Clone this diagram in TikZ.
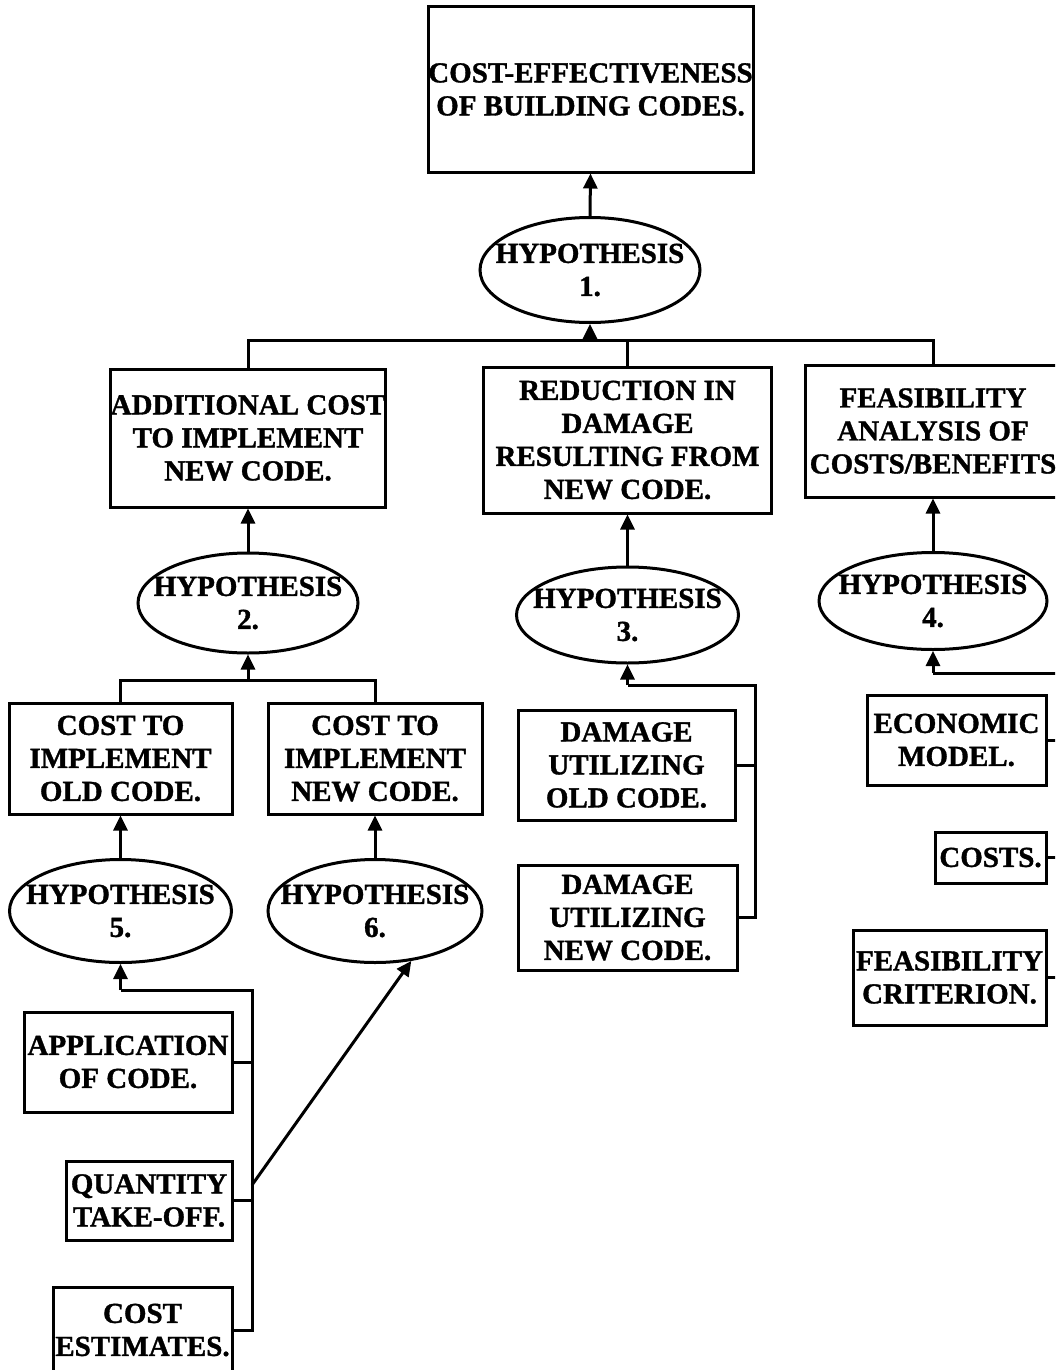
\documentclass[tikz,border=0pt]{standalone}
\usepackage{fontspec}
\setmainfont{Liberation Serif}[BoldFeatures={FakeBold=1.2}]
\usetikzlibrary{arrows.meta,shapes.geometric}
\begin{document}
\begin{tikzpicture}[x=1pt,y=-1pt,
  every node/.style={font=\bfseries\fontsize{29}{33}\selectfont, align=center, inner sep=0pt},
  box/.style={draw, line width=3pt, rectangle},
  hyp/.style={draw, line width=3pt, ellipse, inner xsep=-30pt, inner ysep=0pt},
  conn/.style={line width=3pt},
  arr/.style={conn, -{Triangle[width=14pt,length=15pt]}},
]
\path[use as bounding box, fill=white] (0,0) rectangle (1055,1370);
\clip (0,0) rectangle (1055,1370);

% level 0
\node[box, minimum width=325pt, minimum height=165pt] (top) at (590.5,89.5) {COST-EFFECTIVENESS\\OF BUILDING CODES.};
\node[hyp, minimum width=220pt, minimum height=105pt] (h1) at (590,270) {HYPOTHESIS\\1.};

% level 1
\node[box, minimum width=274pt, minimum height=138pt] (addc) at (248,438) {ADDITIONAL COST\\TO IMPLEMENT\\NEW CODE.};
\node[box, minimum width=288pt, minimum height=146pt] (red) at (627.5,440) {REDUCTION IN\\DAMAGE\\RESULTING FROM\\NEW CODE.};
\node[box, minimum width=256pt, minimum height=132pt] (feas) at (933,431) {FEASIBILITY\\ANALYSIS OF\\COSTS/BENEFITS};

\node[hyp, minimum width=220pt, minimum height=100pt] (h2) at (248,603) {HYPOTHESIS\\2.};
\node[hyp, minimum width=222pt, minimum height=96pt] (h3) at (627.5,615) {HYPOTHESIS\\3.};
\node[hyp, minimum width=228pt, minimum height=97pt] (h4) at (933,601) {HYPOTHESIS\\4.};

% level 2
\node[box, minimum width=223pt, minimum height=111pt] (cold) at (120.5,758.5) {COST TO\\IMPLEMENT\\OLD CODE.};
\node[box, minimum width=214pt, minimum height=111pt] (cnew) at (375,758.5) {COST TO\\IMPLEMENT\\NEW CODE.};
\node[hyp, minimum width=222pt, minimum height=103pt] (h5) at (120.5,911) {HYPOTHESIS\\5.};
\node[hyp, minimum width=214pt, minimum height=103pt] (h6) at (375,911) {HYPOTHESIS\\6.};

\node[box, minimum width=217pt, minimum height=110pt] (dold) at (626.5,765) {DAMAGE\\UTILIZING\\OLD CODE.};
\node[box, minimum width=219pt, minimum height=105pt] (dnew) at (627.5,917.5) {DAMAGE\\UTILIZING\\NEW CODE.};

\node[box, minimum width=179pt, minimum height=90pt] (econ) at (956.5,740) {ECONOMIC\\MODEL.};
\node[box, minimum width=111pt, minimum height=51pt] (costs) at (990.5,857.5) {COSTS.};
\node[box, minimum width=193pt, minimum height=95pt] (fcrit) at (949.5,977.5) {FEASIBILITY\\CRITERION.};

% level 3
\node[box, minimum width=208pt, minimum height=100pt] (app) at (128,1062) {APPLICATION\\OF CODE.};
\node[box, minimum width=166pt, minimum height=79pt] (qty) at (149,1200.5) {QUANTITY\\TAKE-OFF.};
\node[box, minimum width=179pt, minimum height=86pt] (cest) at (142.5,1330) {COST\\ESTIMATES.};

% connectors
\draw[arr] (h1.north) -- (top.south);
\coordinate (b1) at (590,340);
\draw[arr] (b1) -- (h1.south);
\draw[conn] (addc.north) |- (b1) -| (feas.north);
\draw[conn] (red.north) -- (red.north |- b1);

\draw[arr] (h2.north) -- (addc.south);
\draw[arr] (h3.north) -- (red.south);
\draw[arr] (h4.north) -- (feas.south);

\coordinate (b2) at (248,680);
\draw[arr] (b2) -- (h2.south);
\draw[conn] (cold.north) |- (b2) -| (cnew.north);
\draw[arr] (h5.north) -- (cold.south);
\draw[arr] (h6.north) -- (cnew.south);

\coordinate (b3) at (627.5,685);
\coordinate (b3r) at (755,685);
\draw[arr] (b3) -- (h3.south);
\draw[conn] (dnew.east) -| (b3r) -- (b3);
\draw[conn] (dold.east) -- (dold.east -| b3r);

\coordinate (b4) at (933,673);
\coordinate (b4r) at (1068,673);
\draw[arr] (b4) -- (h4.south);
\draw[conn] (fcrit.east) -| (b4r) -- (b4);
\draw[conn] (econ.east) -- (econ.east -| b4r);
\draw[conn] (costs.east) -- (costs.east -| b4r);

\coordinate (b5) at (120.5,990);
\coordinate (b5r) at (252,990);
\draw[arr] (b5) -- (h5.south);
\draw[conn] (cest.east) -| (b5r) -- (b5);
\draw[conn] (app.east) -- (app.east -| b5r);
\draw[conn] (qty.east) -- (qty.east -| b5r);
\coordinate (q6) at (252,1185);
\draw[arr] (q6) -- (h6.306);
\end{tikzpicture}
\end{document}
